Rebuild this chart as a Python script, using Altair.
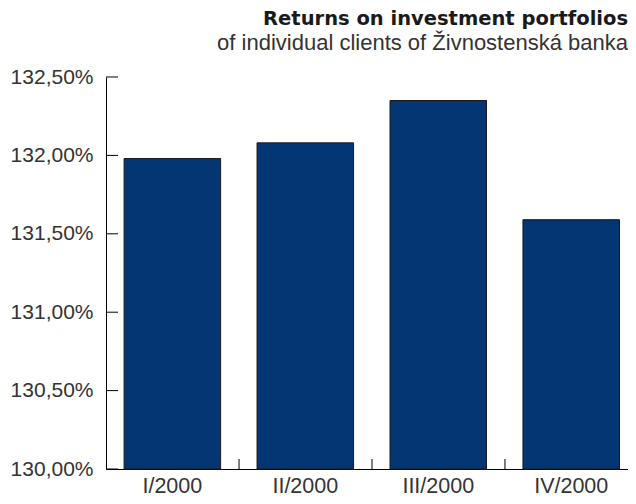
import altair as alt
import pandas as pd

quarters = ["I/2000", "II/2000", "III/2000", "IV/2000"]
returns = [131.98, 132.08, 132.35, 131.59]
y_ticks = [130.0, 130.5, 131.0, 131.5, 132.0, 132.5]

title_text = "Returns on investment portfolios"
subtitle_text = "of individual clients of Živnostenská banka"

W, H = 522, 392

bars_df = pd.DataFrame({"q": quarters, "r": returns})
ytick_df = pd.DataFrame({"v": y_ticks})
xtick_df = pd.DataFrame({"q": quarters[1:]})

xscale = alt.Scale(domain=quarters, paddingInner=0.274, paddingOuter=0.1, align=0.68)
yscale = alt.Scale(domain=[y_ticks[0], y_ticks[-1]], zero=False, nice=False)

label_expr = "replace(format(datum.value, '.2f'), '.', ',') + '%'"

bars = alt.Chart(bars_df).mark_bar(
    color="#033672", stroke="#1a1a1a", strokeWidth=1
).encode(
    x=alt.X("q:N", scale=xscale, sort=quarters,
            axis=alt.Axis(title=None, ticks=False, labelAngle=0,
                          labelFont="Liberation Sans", labelFontSize=21.5,
                          labelColor="#333333", labelPadding=6,
                          domainColor="#000000", domainWidth=1)),
    y=alt.Y("r:Q", scale=yscale,
            axis=alt.Axis(title=None, ticks=False, values=y_ticks,
                          labelExpr=label_expr, grid=False,
                          labelFont="Liberation Sans", labelFontSize=21,
                          labelColor="#333333", labelPadding=13,
                          domainColor="#000000", domainWidth=1)),
    y2=alt.datum(y_ticks[0]),
)

yticks = alt.Chart(ytick_df).mark_rule(color="#000000", strokeWidth=1).encode(
    y=alt.Y("v:Q", scale=yscale),
    x=alt.value(0),
    x2=alt.value(12),
)

xticks = alt.Chart(xtick_df).mark_rule(color="#000000", strokeWidth=1, xOffset=-18).encode(
    x=alt.X("q:N", scale=xscale, bandPosition=0),
    y=alt.value(H - 10),
    y2=alt.value(H),
)

chart = alt.layer(bars, yticks, xticks).properties(
    width=W,
    height=H,
    title=alt.TitleParams(
        text=title_text,
        subtitle=subtitle_text,
        anchor="end",
        frame="group",
        font="DejaVu Sans",
        fontSize=19.5,
        fontWeight="bold",
        color="#1a1a1a",
        subtitleFont="Liberation Sans",
        subtitleFontSize=22,
        subtitleColor="#333333",
        subtitlePadding=4,
        offset=11,
    ),
    autosize=alt.AutoSizeParams(type="none"),
    padding={"left": 98, "top": 69, "right": 0, "bottom": 27},
).configure_view(stroke=None)

chart.save("out.html", embed_options={"renderer": "svg", "actions": False})
